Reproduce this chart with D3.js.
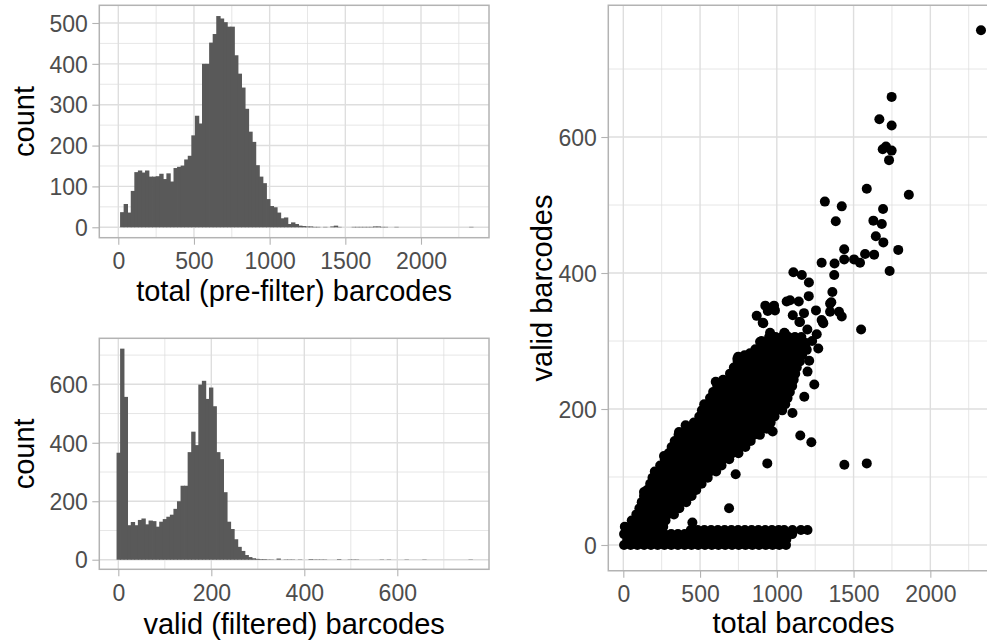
<!DOCTYPE html>
<html>
<head>
<meta charset="utf-8">
<script src="https://cdn.jsdelivr.net/npm/d3@7"></script>
<style>
  html, body { margin: 0; padding: 0; background: #ffffff; }
  svg { display: block; font-family: "Liberation Sans", Arial, Helvetica, sans-serif; }
</style>
</head>
<body>
<svg id="chart" width="987" height="642"></svg>
<script>
// ---------------- data: total (pre-filter) barcodes histogram, 100 bins ----------------
const totalBinStart = -11.77;
const totalBinWidth = 23.535;
const totalCounts = [
  0, 37, 57, 36, 89, 135, 139, 134, 139, 124,
  124, 125, 131, 118, 132, 112, 145, 148, 151, 166,
  175, 225, 273, 254, 400, 400, 452, 473, 517, 511,
  502, 491, 491, 421, 376, 342, 290, 234, 209, 152,
  124, 108, 69, 52, 49, 36, 22, 24, 8, 12,
  8, 4, 3, 2, 2, 1, 1, 0, 1, 0,
  2, 4, 1, 0, 0, 0, 1, 1, 1, 1,
  1, 1, 2, 2, 1, 1, 0, 0, 1, 0,
  0, 0, 0, 0, 0, 0, 0, 0, 0, 0,
  0, 0, 0, 0, 0, 0, 0, 0, 0, 1
];
const totalTicksX = [0, 500, 1000, 1500, 2000];
const totalMinorX = [250, 750, 1250, 1750, 2250];
const totalTicksY = [0, 100, 200, 300, 400, 500];
const totalMinorY = [50, 150, 250, 350, 450];

// ---------------- data: valid (filtered) barcodes histogram, 100 bins ----------------
const validBinStart = -3.82;
const validBinWidth = 7.646;
const validCounts = [
  366, 722, 557, 118, 129, 118, 136, 141, 121, 134,
  132, 113, 130, 139, 147, 154, 174, 200, 253, 253,
  368, 438, 392, 599, 612, 550, 589, 525, 368, 344,
  231, 130, 105, 70, 44, 30, 16, 9, 5, 3,
  2, 2, 1, 1, 0, 4, 0, 1, 1, 1,
  0, 1, 0, 0, 2, 1, 1, 1, 1, 0,
  0, 0, 2, 0, 0, 1, 1, 1, 0, 0,
  0, 0, 0, 0, 1, 0, 1, 0, 0, 0,
  0, 1, 0, 0, 0, 0, 1, 0, 0, 0,
  0, 0, 0, 0, 0, 0, 0, 0, 0, 1
];
const validTicksX = [0, 200, 400, 600];
const validMinorX = [100, 300, 500, 700];
const validTicksY = [0, 200, 400, 600];
const validMinorY = [100, 300, 500, 700];

// ---------------- data: total vs valid barcodes per cell ----------------
// dense part of the cloud, grouped by valid-barcode level: [valid, [total, ...]]
const denseRows = [
  [0,   [5, 48, 92, 136, 180, 224, 268, 312, 356, 400, 444, 488, 532, 576, 620, 664, 708, 752, 796, 840, 884, 928, 972, 1016, 1060]],
  [8,   [26, 70, 114, 158, 202, 246, 290, 334, 378, 422, 466, 510, 554, 598, 642, 686, 730, 774, 818, 862, 906, 950, 994, 1038, 1062]],
  [16,  [5, 48, 92, 136, 180, 224, 268, 312, 356, 400, 444, 488, 532, 576, 620, 664, 708, 752, 796, 840, 884, 928, 972, 1016, 1060, 1100]],
  [22,  [26, 70, 114, 158, 202, 246, 440, 484, 528, 572, 616, 660, 704, 748, 792, 836, 880, 924, 968, 1012, 1048, 1102, 1157, 1200]],
  [27,  [10, 52, 93, 135, 177, 218, 260]],
  [36,  [55, 92, 128, 165, 202, 238, 275]],
  [45,  [85, 126, 167, 208, 248, 289, 330]],
  [54,  [105, 142, 179, 216, 254, 291, 328, 365]],
  [63,  [120, 161, 203, 244, 286, 327, 369, 410]],
  [72,  [135, 174, 213, 251, 290, 329, 368, 406, 445]],
  [81,  [155, 195, 235, 275, 315, 355, 395, 435, 475]],
  [90,  [175, 217, 259, 301, 343, 384, 426, 468, 510]],
  [99,  [190, 230, 270, 310, 350, 390, 430, 470, 510, 550]],
  [108, [205, 245, 285, 325, 365, 405, 445, 485, 525, 565, 605]],
  [117, [240, 280, 320, 360, 400, 440, 480, 520, 560, 600, 640]],
  [126, [270, 312, 354, 396, 438, 480, 522, 564, 606, 648, 690]],
  [135, [295, 336, 378, 419, 461, 502, 543, 585, 626, 667, 709, 750]],
  [144, [315, 355, 395, 435, 475, 515, 555, 595, 635, 675, 715, 755, 795]],
  [153, [335, 376, 418, 459, 500, 541, 583, 624, 665, 706, 748, 789, 830]],
  [162, [360, 401, 442, 482, 523, 564, 605, 645, 686, 727, 768, 808, 849, 890]],
  [171, [410, 450, 491, 531, 572, 612, 652, 693, 733, 773, 814, 854, 895, 935]],
  [180, [460, 502, 543, 585, 627, 668, 710, 752, 793, 835, 877, 918, 960]],
  [189, [495, 536, 577, 617, 658, 699, 740, 781, 822, 863, 903, 944, 985]],
  [198, [512, 552, 592, 633, 673, 713, 753, 794, 834, 874, 914, 955, 995, 1035]],
  [207, [527, 568, 608, 649, 689, 730, 771, 811, 852, 892, 933, 974, 1014, 1055]],
  [216, [565, 607, 649, 691, 733, 775, 817, 860, 902, 944, 986, 1028, 1070]],
  [225, [585, 627, 668, 710, 752, 793, 835, 877, 918, 960, 1002, 1043, 1085]],
  [234, [612, 653, 693, 734, 775, 815, 856, 897, 937, 978, 1019, 1059, 1100]],
  [243, [650, 692, 734, 775, 817, 859, 901, 943, 985, 1026, 1068, 1110]],
  [252, [695, 734, 772, 811, 850, 888, 927, 966, 1004, 1043, 1081, 1120]],
  [261, [720, 761, 802, 843, 884, 925, 966, 1007, 1048, 1089, 1130]],
  [270, [745, 786, 826, 867, 907, 948, 988, 1029, 1069, 1110, 1150]],
  [279, [790, 832, 873, 915, 957, 998, 1040, 1082, 1123, 1165]],
  [288, [860, 901, 943, 984, 1025, 1066, 1108, 1149, 1190]],
  [297, [920, 959, 997, 1036, 1074, 1113, 1151, 1190]],
  [306, [950, 992, 1034, 1076, 1118, 1160]]
];
// sparse cells around and above the cloud: [total, valid]
const loosePoints = [
  [2330, 757], [1748, 659], [1668, 626], [1748, 617], [1690, 582], [1711, 586], [1748, 580], [1731, 566],
  [1586, 524], [1860, 515], [1313, 505], [1423, 498], [1384, 476], [1692, 494], [1629, 477], [1684, 472],
  [1645, 454], [1694, 445], [1791, 434], [1439, 435], [1575, 428], [1634, 427], [1503, 420], [1542, 415],
  [1439, 420], [1376, 414], [1292, 415], [1735, 403], [1374, 397], [1108, 401], [1163, 397], [1209, 386],
  [1362, 372], [1208, 366], [1086, 360], [1143, 358], [1355, 357], [925, 352], [982, 352], [941, 344],
  [988, 345], [869, 337], [1104, 338], [1177, 341], [1255, 345], [1299, 328], [1347, 343], [1405, 343],
  [1423, 336], [908, 327], [1151, 328], [1549, 317], [956, 312], [1049, 312], [1199, 317], [1260, 310],
  [902, 300], [1270, 289], [749, 277], [825, 282], [956, 292], [1086, 289], [1195, 287], [912, 326],
  [1064, 358], [1147, 328], [1292, 331], [1303, 326], [1347, 355], [1053, 311], [891, 299],
  [1211, 271], [1244, 236], [1179, 218], [1102, 194], [973, 167], [938, 120], [732, 104], [689, 54],
  [450, 33], [1225, 151], [1153, 161], [1440, 118], [1586, 120],
  [363, 166], [265, 131], [135, 78], [602, 240], [743, 274], [406, 176], [1200, 255], [1230, 300]
];
const scatterTicksX = [0, 500, 1000, 1500, 2000];
const scatterMinorX = [250, 750, 1250, 1750, 2250];
const scatterTicksY = [0, 200, 400, 600];
const scatterMinorY = [100, 300, 500, 700];

// ---------------- drawing ----------------
const W = 987, H = 642;
const svg = d3.select("#chart");

const COL = {
  grid: "#dedede",
  border: "#b3b3b3",
  tickText: "#4d4d4d",
  title: "#000000",
  bar: "#595959",
  point: "#000000"
};
const TICK_FONT = 23;
const TITLE_FONT = 29;
const POINT_R = 5;

// panel boxes
const P1 = { left: 99.3, right: 489, top: 5.3, bottom: 237.7 };
const P2 = { left: 99.3, right: 489, top: 338.3, bottom: 569.3 };
const P3 = { left: 608.3, right: 998.8, top: 5.3, bottom: 570.7 };

const x1 = d3.scaleLinear().domain([-125.5, 2449.3]).range([P1.left, P1.right]);
const y1 = d3.scaleLinear().domain([-25.5, 543.3]).range([P1.bottom, P1.top]);
const x2 = d3.scaleLinear().domain([-40.9, 797.2]).range([P2.left, P2.right]);
const y2 = d3.scaleLinear().domain([-32.8, 757.4]).range([P2.bottom, P2.top]);
const x3 = d3.scaleLinear().domain([-97.7, 2446]).range([P3.left, P3.right]);
const y3 = d3.scaleLinear().domain([-37.8, 793.7]).range([P3.bottom, P3.top]);

function drawGrid(g, P, x, y, majX, minX, majY, minY) {
  const right = Math.min(P.right, W);
  const grid = g.append("g").attr("class", "grid");
  grid.selectAll("line.minx").data(minX.filter(v => x(v) < W)).join("line")
    .attr("x1", d => x(d)).attr("x2", d => x(d)).attr("y1", P.top).attr("y2", P.bottom)
    .attr("stroke", COL.grid).attr("stroke-width", 0.75);
  grid.selectAll("line.miny").data(minY).join("line")
    .attr("x1", P.left).attr("x2", right).attr("y1", d => y(d)).attr("y2", d => y(d))
    .attr("stroke", COL.grid).attr("stroke-width", 0.75);
  grid.selectAll("line.majx").data(majX).join("line")
    .attr("x1", d => x(d)).attr("x2", d => x(d)).attr("y1", P.top).attr("y2", P.bottom)
    .attr("stroke", COL.grid).attr("stroke-width", 1.4);
  grid.selectAll("line.majy").data(majY).join("line")
    .attr("x1", P.left).attr("x2", right).attr("y1", d => y(d)).attr("y2", d => y(d))
    .attr("stroke", COL.grid).attr("stroke-width", 1.4);
}

function drawBorder(g, P) {
  if (P.right <= W) {
    g.append("rect")
      .attr("x", P.left).attr("y", P.top)
      .attr("width", P.right - P.left).attr("height", P.bottom - P.top)
      .attr("fill", "none").attr("stroke", COL.border).attr("stroke-width", 1.5);
  } else {
    // the right edge of this panel falls past the page edge
    const right = W + 2;
    g.append("path")
      .attr("d", `M${right},${P.top}H${P.left}V${P.bottom}H${right}`)
      .attr("fill", "none").attr("stroke", COL.border).attr("stroke-width", 1.5);
  }
}

function drawAxes(g, P, x, y, ticksX, ticksY) {
  const ax = g.append("g")
    .attr("transform", `translate(0,${P.bottom})`)
    .call(d3.axisBottom(x).tickValues(ticksX).tickSize(7).tickFormat(d3.format("d")));
  ax.select(".domain").remove();
  ax.selectAll(".tick line").attr("stroke", COL.border).attr("stroke-width", 1.1);
  ax.selectAll(".tick text")
    .attr("y", 31.5).attr("dy", null)
    .attr("fill", COL.tickText)
    .style("font-size", TICK_FONT + "px")
    .style("font-family", "'Liberation Sans', Arial, sans-serif");

  const ay = g.append("g")
    .attr("transform", `translate(${P.left},0)`)
    .call(d3.axisLeft(y).tickValues(ticksY).tickSize(7).tickFormat(d3.format("d")));
  ay.select(".domain").remove();
  ay.selectAll(".tick line").attr("stroke", COL.border).attr("stroke-width", 1.1);
  ay.selectAll(".tick text")
    .attr("x", -11.5).attr("dy", "0.36em")
    .attr("fill", COL.tickText)
    .style("font-size", TICK_FONT + "px")
    .style("font-family", "'Liberation Sans', Arial, sans-serif");
}

function drawTitles(g, P, xTitle, yTitle, xBase, yBase) {
  const cx = (P.left + P.right) / 2;
  const cy = (P.top + P.bottom) / 2;
  g.append("text")
    .attr("x", cx).attr("y", xBase)
    .attr("text-anchor", "middle")
    .attr("fill", COL.title)
    .style("font-size", TITLE_FONT + "px")
    .text(xTitle);
  g.append("text")
    .attr("transform", `translate(${yBase},${cy}) rotate(-90)`)
    .attr("text-anchor", "middle")
    .attr("fill", COL.title)
    .style("font-size", TITLE_FONT + "px")
    .text(yTitle);
}

function drawHistogram(P, x, y, binStart, binWidth, counts, tX, mX, tY, mY, xTitle, yTitle, xBase) {
  const g = svg.append("g");
  drawGrid(g, P, x, y, tX, mX, tY, mY);
  const bins = counts.map((c, i) => ({
    x0: binStart + i * binWidth,
    x1: binStart + (i + 1) * binWidth,
    count: c
  }));
  // each bar overlaps its right neighbour slightly so no seam shows between them
  g.append("g").selectAll("rect").data(bins.filter(b => b.count > 0)).join("rect")
    .attr("x", d => x(d.x0))
    .attr("width", d => x(d.x1) - x(d.x0) + 0.8)
    .attr("y", d => y(d.count))
    .attr("height", d => y(0) - y(d.count))
    .attr("fill", COL.bar);
  drawBorder(g, P);
  drawAxes(g, P, x, y, tX, tY);
  drawTitles(g, P, xTitle, yTitle, xBase, 34);
}

drawHistogram(P1, x1, y1, totalBinStart, totalBinWidth, totalCounts,
  totalTicksX, totalMinorX, totalTicksY, totalMinorY,
  "total (pre-filter) barcodes", "count", 301);

drawHistogram(P2, x2, y2, validBinStart, validBinWidth, validCounts,
  validTicksX, validMinorX, validTicksY, validMinorY,
  "valid (filtered) barcodes", "count", 634);

// scatter panel
const scatterPoints = denseRows
  .flatMap(([v, totals]) => totals.map(t => ({ total: t, valid: v })))
  .concat(loosePoints.map(([t, v]) => ({ total: t, valid: v })));

const g3 = svg.append("g");
drawGrid(g3, P3, x3, y3, scatterTicksX, scatterMinorX, scatterTicksY, scatterMinorY);
g3.append("g").selectAll("circle").data(scatterPoints).join("circle")
  .attr("cx", d => x3(d.total))
  .attr("cy", d => y3(d.valid))
  .attr("r", POINT_R)
  .attr("fill", COL.point);
drawBorder(g3, P3);
drawAxes(g3, P3, x3, y3, scatterTicksX, scatterTicksY);
drawTitles(g3, P3, "total barcodes", "valid barcodes", 633, 552);
</script>
</body>
</html>
